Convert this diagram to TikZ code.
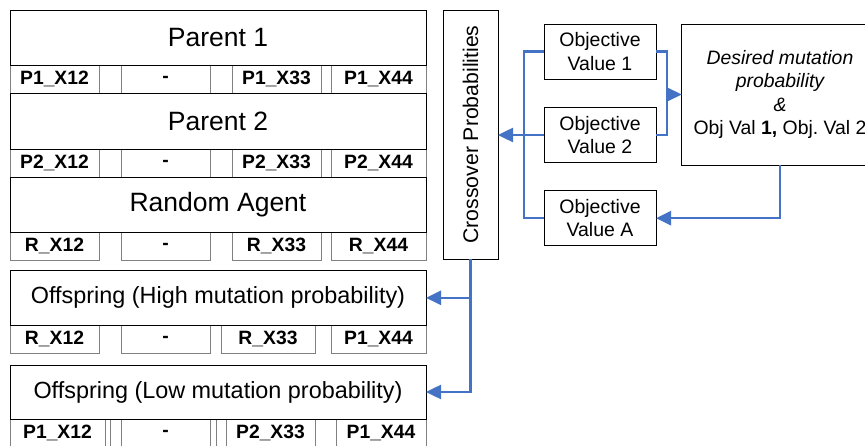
\documentclass[tikz,border=0pt]{standalone}
\usepackage{fontspec}
\setmainfont{Liberation Sans}
\usetikzlibrary{arrows.meta}
\frenchspacing
\definecolor{linkblue}{RGB}{68,114,196}
\definecolor{cellgray}{RGB}{128,128,128}
\newcommand\cellnode[6]{\node[cellbox, minimum width={#3pt-#2pt}, minimum height={#5pt-#4pt}] (#1) at ({(#2+#3)/2},{(#4+#5)/2}) {#6};}
\newcommand\bigbox[6]{\node[titlebox, minimum width={#3pt-#2pt}, minimum height={#5pt-#4pt}] (#1) at ({(#2+#3)/2},{(#4+#5)/2}) {#6};}
\tikzset{
  cellbox/.style={draw=cellgray, line width=0.8pt, inner sep=0pt, outer sep=0pt,
    font=\fontsize{19.3}{22}\selectfont\bfseries},
  titlebox/.style={draw=black, line width=0.9pt, inner sep=0pt, outer sep=0pt, fill=none},
  objbox/.style={draw=black, line width=0.9pt, inner sep=0pt, outer sep=0pt, align=center,
    font=\fontsize{19.5}{23.5}\selectfont},
  conn/.style={draw=linkblue, line width=2.5pt},
  arrowconn/.style={conn, -{Triangle[length=15pt,width=14pt]}},
}
\begin{document}
\begin{tikzpicture}[x=1pt,y=-1pt]
\useasboundingbox (0,0) rectangle (865,446);
\clip (0,0) rectangle (865,446);
\fill[white] (0,0) rectangle (865,446);
% ---- Parent 1 row
\cellnode{pa}{10}{99}{65}{93}{P1\_X12}
\cellnode{pb}{99}{121}{65}{93}{}
\cellnode{pc}{121}{210}{65}{93}{-}
\cellnode{pd}{210}{232}{65}{93}{}
\cellnode{pe}{232}{321}{65}{93}{P1\_X33}
\cellnode{pf}{321}{331}{65}{93}{}
\cellnode{pg}{331}{426}{65}{93}{P1\_X44}
% ---- Parent 2 row
\cellnode{qa}{10}{99}{149}{177}{P2\_X12}
\cellnode{qb}{99}{121}{149}{177}{}
\cellnode{qc}{121}{210}{149}{177}{-}
\cellnode{qd}{210}{232}{149}{177}{}
\cellnode{qe}{232}{321}{149}{177}{P2\_X33}
\cellnode{qf}{321}{331}{149}{177}{}
\cellnode{qg}{331}{426}{149}{177}{P2\_X44}
% ---- Random row
\cellnode{ra}{10}{99}{232}{260}{R\_X12}
\cellnode{rc}{121}{210}{232}{260}{-}
\cellnode{re}{232}{321}{232}{260}{R\_X33}
\cellnode{rg}{331}{426}{232}{260}{R\_X44}
% ---- High offspring row
\cellnode{ha}{10}{99}{325}{353}{R\_X12}
\cellnode{hc}{121}{210}{325}{353}{-}
\cellnode{he}{221}{315}{325}{353}{R\_X33}
\cellnode{hg}{331}{426}{325}{353}{P1\_X44}
% ---- Low offspring row
\cellnode{la}{10}{105}{419}{447}{P1\_X12}
\cellnode{lb}{110}{121}{419}{447}{}
\cellnode{lc}{121}{210}{419}{447}{-}
\cellnode{ld}{216}{226}{419}{447}{}
\cellnode{le}{226}{315}{419}{447}{P2\_X33}
\cellnode{lf}{315}{336}{419}{447}{}
\cellnode{lg}{336}{426}{419}{447}{P1\_X44}
% ---- title boxes
\bigbox{par1}{10}{426}{10.7}{65}{\fontsize{26.5}{30}\selectfont Parent 1}
\bigbox{par2}{10}{426}{93}{149}{\fontsize{26.5}{30}\selectfont Parent 2}
\bigbox{rand}{10}{426}{177}{232}{\fontsize{26.5}{30}\selectfont Random Agent}
\bigbox{high}{10}{426}{270.7}{325}{\fontsize{23.4}{28}\selectfont Offspring (High mutation probability)}
\bigbox{low}{10}{426}{365}{419}{\fontsize{23.4}{28}\selectfont Offspring (Low mutation probability)}
% ---- right part
\node[titlebox, minimum width=55pt, minimum height=249pt] (cross) at (470.5,134.5) {};
\node[rotate=90, font=\fontsize{21.2}{25}\selectfont] (crosstext) at (cross.center) {Crossover Probabilities};
\node[objbox, minimum width=112pt, minimum height=55pt] (obj1) at (600,51.7) {Objective\\Value 1};
\node[objbox, minimum width=112pt, minimum height=55pt] (obj2) at (600,135) {Objective\\Value 2};
\node[objbox, minimum width=112pt, minimum height=55pt] (objA) at (600,218.2) {Objective\\Value A};
\node[objbox, minimum width=196.6pt, minimum height=141pt, font=\fontsize{19.4}{23.3}\selectfont] (des) at (780,94.5)
  {\itshape Desired mutation\\\itshape probability\\\itshape \&\\Obj Val \textbf{1,} Obj.\ Val 2};
% ---- connectors
\coordinate (lbk) at (524,0);
\coordinate (rbk) at (667,0);
\draw[conn] (obj1.west) -| (lbk |- objA.west) -- (objA.west);
\draw[arrowconn] (obj2.west) -- (cross.east |- obj2.west);
\draw[conn] (obj1.east) -| (rbk |- obj2.east) -- (obj2.east);
\draw[arrowconn] (rbk |- des.west) -- (des.west);
\draw[arrowconn] (des.south) |- (objA.east);
\draw[arrowconn] (cross.south) |- (low.east);
\draw[arrowconn] (cross.south |- high.east) -- (high.east);
\end{tikzpicture}
\end{document}
